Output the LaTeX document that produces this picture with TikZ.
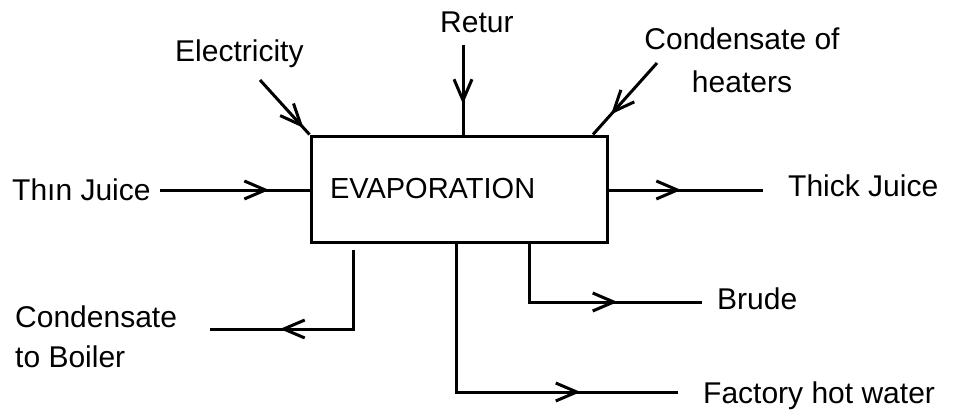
\documentclass[tikz,border=0pt]{standalone}
\usepackage{fontspec}
\setmainfont{Liberation Sans}
\usetikzlibrary{arrows.meta,decorations.markings}
\tikzset{
  flow/.style={line width=3pt, line join=miter, postaction={decorate},
    decoration={markings, mark=at position #1 with {\arrow{Straight Barb[length=21pt,width=18pt,line width=3pt]}}}},
  lbl/.style={inner sep=0pt, font=\fontsize{30}{40}\selectfont},
  box/.style={draw, line width=3pt, minimum height=106pt, text width=258pt,
    inner xsep=19pt, inner ysep=0pt, align=left, font=\fontsize{29}{34}\selectfont}
}
\begin{document}
\begin{tikzpicture}[x=1pt,y=-1pt]
\useasboundingbox (0,0) rectangle (960,412);
% central box
\node[box] (evap) at (459,189) {EVAPORATION};
% labels
\node[lbl, anchor=base west] (thin) at (12,200) {Thın Juice};
\node[lbl, anchor=base west] (elec) at (175,62) {Electricity};
\node[lbl, anchor=base west] (retur) at (440,33) {Retur};
\node[lbl, anchor=base, align=center, font=\fontsize{30}{42}\selectfont] (cond) at (742,92) {Condensate of\\heaters};
\node[lbl, anchor=base west] (thick) at (788,196) {Thick Juice};
\node[lbl, anchor=base west] (brude) at (717,309) {Brude};
\node[lbl, anchor=base west] (factory) at (703,403) {Factory hot water};
\node[lbl, anchor=base west, align=left] (boiler) at (15,367) {Condensate\\to Boiler};
% free ends of connectors
\coordinate (tjs) at (160,190);
\coordinate (els) at (260,80);
\coordinate (res) at (463,45);
\coordinate (chs) at (657,63);
\coordinate (che) at (593,0);
\coordinate (thke) at (763,190);
\coordinate (brs) at (529,0);
\coordinate (bre) at (702,302);
\coordinate (fhs) at (456,0);
\coordinate (fhe) at (678,392);
\coordinate (cbs) at (353,250);
\coordinate (cbe) at (210,329);
% connectors
\draw[flow=0.73] (tjs) -- (tjs -| evap.west);
\draw[flow=0.88] (els) -- (evap.north west);
\draw[flow=0.66] (res) -- (res |- evap.north);
\draw[flow=0.72] (chs) -- (che |- evap.north);
\draw[flow=0.47] (evap.east |- thke) -- (thke);
\draw[flow=0.635] (brs |- evap.south) |- (bre);
\draw[flow=0.737] (fhs |- evap.south) |- (fhe);
\draw[flow=0.685] (cbs) |- (cbe);
\end{tikzpicture}
\end{document}
